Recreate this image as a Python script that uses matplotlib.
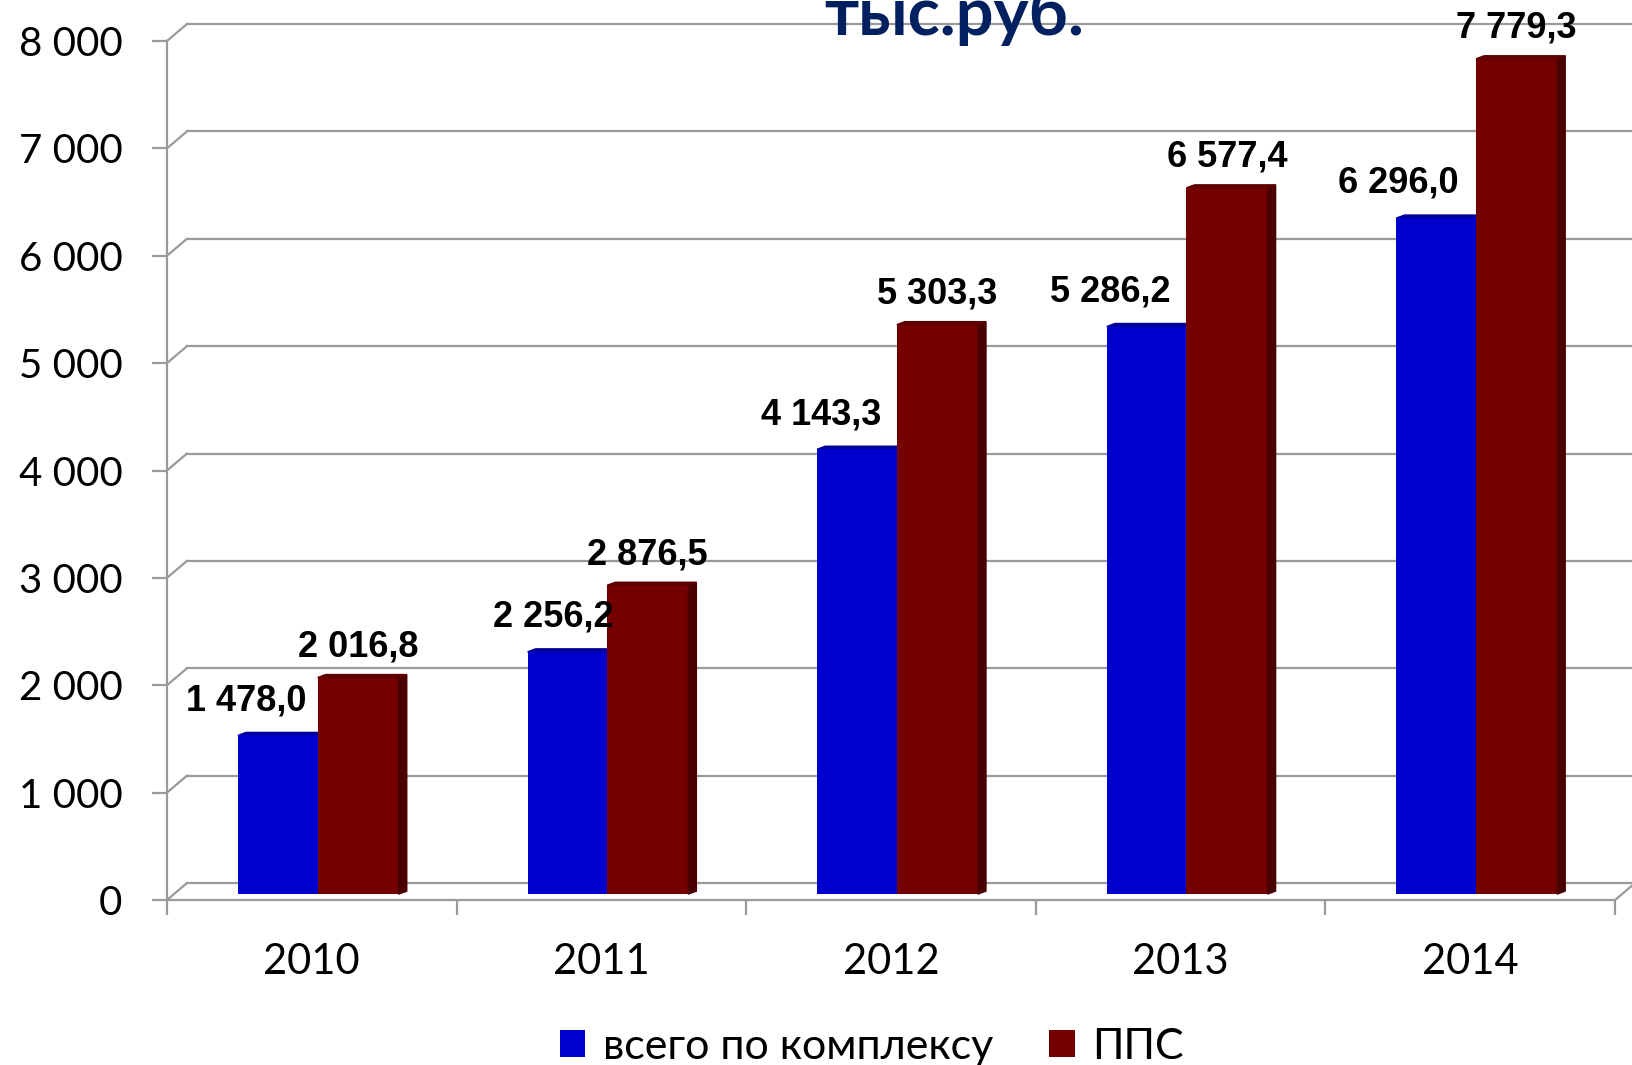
import matplotlib.pyplot as plt
import numpy as np
from matplotlib.patches import Polygon
from matplotlib.ticker import FuncFormatter

years = ["2010", "2011", "2012", "2013", "2014"]
total = [1478.0, 2256.2, 4143.3, 5286.2, 6296.0]
pps = [2016.8, 2876.5, 5303.3, 6577.4, 7779.3]
series_names = ["всего по комплексу", "ППС"]

BLUE = "#0000CC"
RED = "#750000"
RED_SIDE = "#4A0000"
RED_TOP = "#5E0000"
BLUE_TOP = "#00009A"
GRID = "#9A9A9A"
TEXT_FONT = ["Lato", "DejaVu Sans"]
LABEL_FONT = ["Liberation Sans", "DejaVu Sans"]


def ru_num(v, decimals=1):
    s = f"{v:,.{decimals}f}"
    return s.replace(",", " ").replace(".", ",")


fig = plt.figure(figsize=(16.32, 10.65), dpi=100)
ax = fig.add_axes([0.1023, 0.1549, 0.8873, 0.8066])
ax.set_xlim(-0.5, 4.5)
ax.set_ylim(0, 8000)

# fake 3d depth of the back wall
dx, dy = 0.069, 158
lift = 55
side_w, side_h = 0.028, 28

x = np.arange(len(years))

# back wall gridlines with their little diagonals
for v in np.arange(0, 8001, 1000):
    ax.plot([-0.5 + dx, 4.5 + dx + 0.2], [v + dy, v + dy], color=GRID,
            lw=1.6, clip_on=False, zorder=1)
    ax.plot([-0.5, -0.5 + dx], [v, v + dy], color=GRID, lw=1.6,
            clip_on=False, zorder=1)
# front floor edge
ax.plot([-0.5, 4.5], [0, 0], color=GRID, lw=1.6, clip_on=False, zorder=1)
ax.plot([4.5, 4.5 + dx], [0, dy], color=GRID, lw=1.6, clip_on=False, zorder=1)

w_blue, w_red = 0.275, 0.28
b1 = ax.bar(x - 0.255 + w_blue / 2, total, width=w_blue, bottom=lift,
            color=BLUE, zorder=3, label=series_names[0])
b2 = ax.bar(x + 0.02 + w_red / 2, pps, width=w_red, bottom=lift,
            color=RED, zorder=3, label=series_names[1])

for xi, h in zip(x, total):
    l, r, top = xi - 0.255, xi + 0.02, h + lift
    ax.add_patch(Polygon([(l, top), (l + side_w, top + side_h),
                          (r + side_w, top + side_h), (r, top)],
                         closed=True, color=BLUE_TOP, zorder=2.9))

for xi, h in zip(x, pps):
    l, r, top = xi + 0.02, xi + 0.30, h + lift
    ax.add_patch(Polygon([(r, lift), (r + side_w, lift + side_h),
                          (r + side_w, top + side_h), (r, top)],
                         closed=True, color=RED_SIDE, zorder=3.1))
    ax.add_patch(Polygon([(l, top), (l + side_w, top + side_h),
                          (r + side_w, top + side_h), (r, top)],
                         closed=True, color=RED_TOP, zorder=3.1))

# data labels (blue ones sit a bit to the left, like in the original)
blue_dx = [-23, -10, -26, -26, -27]
for xi, h, ox in zip(x, total, blue_dx):
    ax.annotate(ru_num(h), (xi - 0.1175, h + lift), xytext=(ox, 25),
                textcoords="offset points", ha="center", va="center",
                fontsize=26, fontweight="bold", family=LABEL_FONT, zorder=5)
for xi, h in zip(x, pps):
    ax.annotate(ru_num(h), (xi + 0.16, h + lift), xytext=(0, 22),
                textcoords="offset points", ha="center", va="center",
                fontsize=26, fontweight="bold", family=LABEL_FONT, zorder=5)

for s in ["top", "right", "bottom"]:
    ax.spines[s].set_visible(False)
ax.spines["left"].set_color(GRID)
ax.spines["left"].set_linewidth(1.6)

ax.set_yticks(np.arange(0, 8001, 1000))
ax.yaxis.set_major_formatter(FuncFormatter(lambda v, _: ru_num(v, 0)))
ax.tick_params(axis="y", length=11, width=1.6, color=GRID, pad=21,
               labelsize=29)

ax.set_xticks(np.arange(-0.5, 4.6, 1.0))
ax.set_xticklabels([])
ax.set_xticks(x, minor=True)
ax.set_xticklabels(years, minor=True)
ax.tick_params(axis="x", which="major", length=11, width=1.6, color=GRID)
ax.tick_params(axis="x", which="minor", length=0, pad=31, labelsize=30)
for lab in ax.get_yticklabels() + ax.get_xticklabels(minor=True):
    lab.set_family(TEXT_FONT)

fig.text(0.5846, 0.967, "тыс.руб.", ha="center", va="baseline",
         fontsize=48, fontweight="bold", color="#002060", family=TEXT_FONT)

fig.legend(handles=[b1, b2], labels=series_names, loc="center",
           bbox_to_anchor=(0.534, 0.017), ncol=2, frameon=False,
           prop={"family": TEXT_FONT, "size": 31},
           handlelength=0.6, handleheight=0.6, handletextpad=0.4,
           columnspacing=1.3, borderpad=0)

fig.savefig("out.png", dpi=100)
